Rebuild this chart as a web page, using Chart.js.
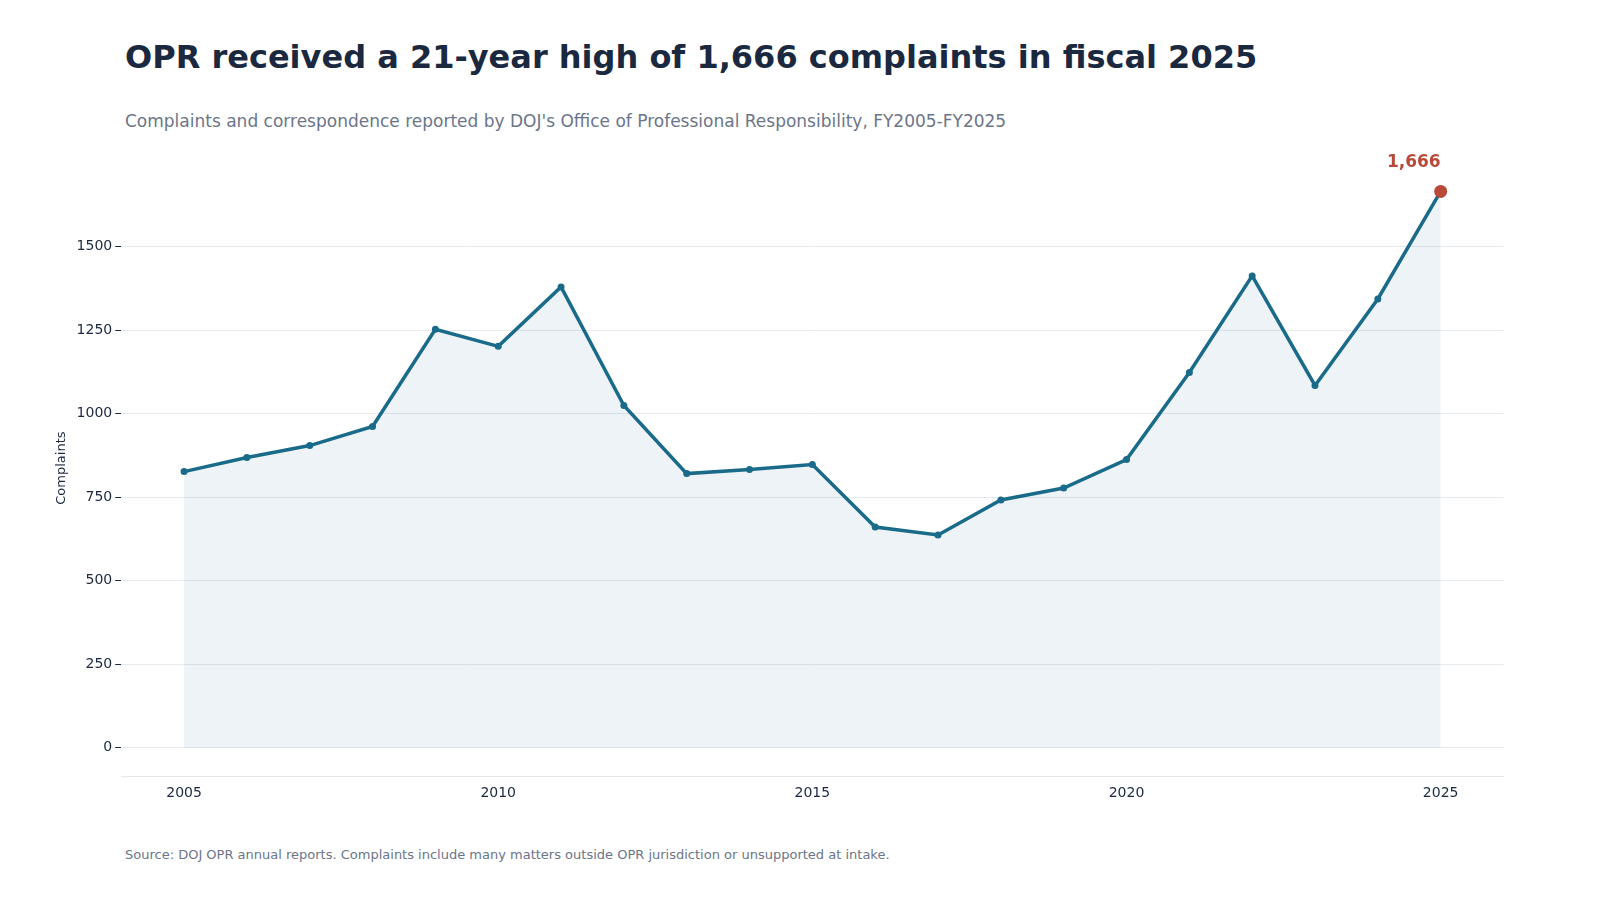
<!DOCTYPE html>
<html lang="en">
<head>
    <meta charset="UTF-8">
    <script src="https://cdn.jsdelivr.net/npm/chart.js"></script>
    <style>
        body { margin: 0; width: 1600px; height: 900px; background: #fff; font-family: "DejaVu Sans", sans-serif; position: relative; }
        #title { position: absolute; left: 125px; top: 38px; font-size: 32px; font-weight: bold; color: #1a2840; }
        #sub { position: absolute; left: 125px; top: 111px; font-size: 17px; color: #6b7589; }
        #src { position: absolute; left: 125px; top: 847px; font-size: 13px; color: #6b7589; }
        #box { position: absolute; left: 50px; top: 140px; width: 1460px; height: 665px; }
    </style>
</head>
<body>
    <div id="title">OPR received a 21-year high of 1,666 complaints in fiscal 2025</div>
    <div id="sub">Complaints and correspondence reported by DOJ's Office of Professional Responsibility, FY2005-FY2025</div>
    <div id="box"><canvas id="myChart"></canvas></div>
    <div id="src">Source: DOJ OPR annual reports. Complaints include many matters outside OPR jurisdiction or unsupported at intake.</div>
    <script>
        // fiscal years and complaint counts
        let years = [2005,2006,2007,2008,2009,2010,2011,2012,2013,2014,2015,2016,2017,2018,2019,2020,2021,2022,2023,2024,2025];
        let complaints = [827,869,905,962,1253,1202,1380,1025,821,833,848,661,637,742,778,863,1124,1413,1085,1344,1666];
        let yTicks = [0,250,500,750,1000,1250,1500];
        let xTicks = [2005,2010,2015,2020,2025];

        let lineColor = '#1a6b8a';
        let hiColor = '#b94a3a';
        let last = complaints.length - 1;

        let labelPlugin = {
            id: 'peakLabel',
            afterDatasetsDraw(chart) {
                let pt = chart.getDatasetMeta(0).data[last];
                let c = chart.ctx;
                c.save();
                c.fillStyle = hiColor;
                c.font = 'bold 17px "DejaVu Sans"';
                c.textAlign = 'right';
                c.textBaseline = 'bottom';
                c.fillText(complaints[last].toLocaleString('en-US'), pt.x, pt.y - 20);
                c.restore();
            }
        };

        let ctx = document.getElementById('myChart');
        new Chart(ctx, {
            type: 'line',
            data: {
                datasets: [{
                    data: years.map((y, i) => ({ x: y, y: complaints[i] })),
                    borderColor: lineColor,
                    borderWidth: 3.5,
                    backgroundColor: 'rgba(26,107,138,0.08)',
                    fill: 'origin',
                    tension: 0,
                    pointRadius: complaints.map((v, i) => i === last ? 6.5 : 3.5),
                    pointBackgroundColor: complaints.map((v, i) => i === last ? hiColor : lineColor),
                    pointBorderWidth: 0
                }]
            },
            plugins: [labelPlugin],
            options: {
                responsive: true,
                maintainAspectRatio: false,
                animation: false,
                layout: { padding: { top: 20 } },
                plugins: { legend: { display: false }, tooltip: { enabled: false } },
                scales: {
                    x: {
                        type: 'linear', min: 2004, max: 2026,
                        afterBuildTicks: s => { s.ticks = xTicks.map(v => ({ value: v })); },
                        ticks: { callback: v => String(v), color: '#1a2840', font: { size: 14, family: 'DejaVu Sans' } },
                        grid: { display: false, drawTicks: true, tickLength: 6 },
                        border: { color: '#e3e7ec' }
                    },
                    y: {
                        min: -85, max: 1760,
                        afterBuildTicks: s => { s.ticks = yTicks.map(v => ({ value: v })); },
                        ticks: { callback: v => String(v), color: '#1a2840', font: { size: 14, family: 'DejaVu Sans' } },
                        grid: { color: '#e6eaee', tickColor: '#1a2840', tickLength: 6 },
                        border: { display: false },
                        title: { display: true, text: 'Complaints', color: '#1a2840', font: { size: 13, family: 'DejaVu Sans' } }
                    }
                }
            }
        });
    </script>
</body>
</html>
